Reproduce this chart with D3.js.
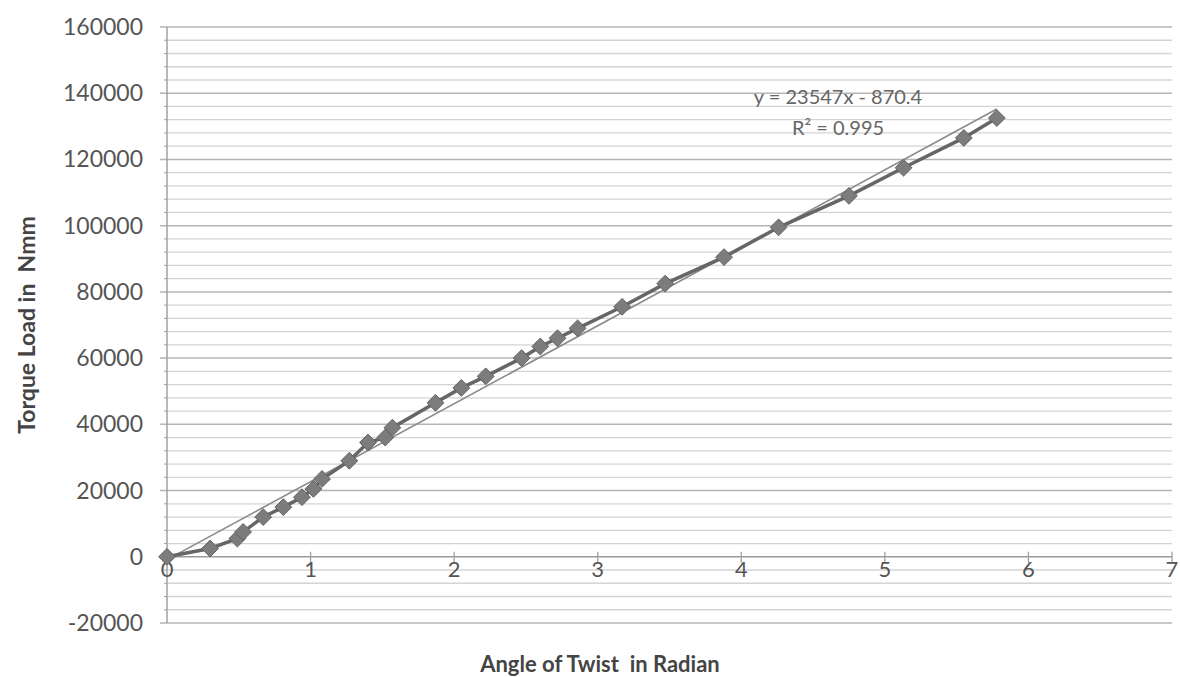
<!DOCTYPE html>
<html>
<head>
<meta charset="utf-8">
<script src="https://cdn.jsdelivr.net/npm/d3@7"></script>
<style>
  body { margin: 0; background: #fff; }
  text { font-family: Lato, "Open Sans", sans-serif; fill: #555; }
  .title { font-weight: bold; fill: #444; white-space: pre; }
</style>
</head>
<body>
<div id="chart"></div>
<script>
// Angle of twist (rad) vs torque load (Nmm)
const angle = [0, 0.30, 0.49, 0.53, 0.67, 0.81, 0.94, 1.02, 1.08, 1.27, 1.40, 1.52, 1.57, 1.87,
  2.05, 2.22, 2.47, 2.60, 2.72, 2.86, 3.17, 3.47, 3.88, 4.26, 4.75, 5.13, 5.55, 5.78];
const torque = [0, 2500, 5500, 7500, 12000, 15000, 18000, 20500, 23500, 29000, 34500, 36000, 39000, 46500,
  51000, 54500, 60000, 63500, 66000, 69000, 75500, 82500, 90500, 99500, 109000, 117500, 126500, 132500];
const xTicks = [0, 1, 2, 3, 4, 5, 6, 7];
const yTicks = [-20000, 0, 20000, 40000, 60000, 80000, 100000, 120000, 140000, 160000];
const trendSlope = 23547, trendIntercept = -870.4;
const trendLabel = ["y = 23547x - 870.4", "R² = 0.995"];

const W = 1180, H = 677;
const margin = { top: 27, right: 8, bottom: 54, left: 167 };
const width = W - margin.left - margin.right,
  height = H - margin.top - margin.bottom;

const svg = d3.select("#chart").append("svg")
  .attr("width", W).attr("height", H)
  .append("g")
  .attr("transform", `translate(${margin.left},${margin.top})`);

const x = d3.scaleLinear().domain([0, 7]).range([0, width]);
const y = d3.scaleLinear().domain([-20000, 160000]).range([height, 0]);

// minor gridlines every 4000
const minor = d3.range(-20000, 160001, 4000).filter(v => v % 20000 !== 0);
svg.selectAll(".minor").data(minor).enter().append("line")
  .attr("x1", 0).attr("x2", width)
  .attr("y1", d => y(d)).attr("y2", d => y(d))
  .attr("stroke", "#d4d4d4").attr("stroke-width", 1.3);

// major gridlines
svg.selectAll(".major").data(yTicks).enter().append("line")
  .attr("x1", -7).attr("x2", width)
  .attr("y1", d => y(d)).attr("y2", d => y(d))
  .attr("stroke", d => d === 0 ? "#9a9a9a" : "#b5b5b5").attr("stroke-width", 1.5);

// y axis line
svg.append("line")
  .attr("x1", 0).attr("x2", 0).attr("y1", 0).attr("y2", height)
  .attr("stroke", "#a0a0a0").attr("stroke-width", 1.5);

// y minor ticks on axis
svg.selectAll(".yminor").data(minor).enter().append("line")
  .attr("x1", -3).attr("x2", 0)
  .attr("y1", d => y(d)).attr("y2", d => y(d))
  .attr("stroke", "#a0a0a0");

// y tick labels
svg.selectAll(".ylab").data(yTicks).enter().append("text")
  .attr("x", -24).attr("y", d => y(d)).attr("dy", "0.35em")
  .attr("text-anchor", "end").style("font-size", "23px")
  .text(d => d);

// x ticks on zero line
svg.selectAll(".xtick").data(xTicks.slice(1)).enter().append("line")
  .attr("x1", d => x(d)).attr("x2", d => x(d))
  .attr("y1", y(0) - 5).attr("y2", y(0) + 6)
  .attr("stroke", "#a0a0a0").attr("stroke-width", 1.3);

svg.selectAll(".xlab").data(xTicks).enter().append("text")
  .attr("x", d => x(d)).attr("y", y(0) + 13).attr("dy", "0.35em")
  .attr("text-anchor", "middle").style("font-size", "22px")
  .text(d => d);

// trendline
const tx = d3.extent(angle);
svg.append("line")
  .attr("x1", x(tx[0])).attr("y1", y(trendSlope * tx[0] + trendIntercept))
  .attr("x2", x(tx[1])).attr("y2", y(trendSlope * tx[1] + trendIntercept))
  .attr("stroke", "#8a8a8a").attr("stroke-width", 1.6);

// data line
const pts = angle.map((a, i) => [a, torque[i]]);
svg.append("path")
  .datum(pts)
  .attr("fill", "none")
  .attr("stroke", "#666").attr("stroke-width", 3.5)
  .attr("d", d3.line().x(d => x(d[0])).y(d => y(d[1])));

// diamond markers
svg.selectAll(".pt").data(pts).enter().append("path")
  .attr("transform", d => `translate(${x(d[0])},${y(d[1])})`)
  .attr("d", d3.symbol(d3.symbolDiamond2, 180))
  .attr("fill", "#7c7c7c").attr("stroke", "#636363").attr("stroke-width", 1);

// trendline label
svg.selectAll(".tl").data(trendLabel).enter().append("text")
  .attr("x", 838 - margin.left).attr("y", (d, i) => 97 - margin.top + i * 31)
  .attr("dy", "0.35em").attr("text-anchor", "middle")
  .style("font-size", "20px").style("fill", "#666")
  .text(d => d);

// axis titles
svg.append("text").attr("class", "title")
  .attr("x", 600 - margin.left).attr("y", 672 - margin.top)
  .attr("text-anchor", "middle").style("font-size", "22px")
  .text("Angle of Twist  in Radian");

svg.append("text").attr("class", "title")
  .attr("transform", `translate(${27 - margin.left},${325 - margin.top}) rotate(-90)`)
  .attr("dy", "0.35em").attr("text-anchor", "middle").style("font-size", "23px")
  .text("Torque Load in  Nmm");
</script>
</body>
</html>
